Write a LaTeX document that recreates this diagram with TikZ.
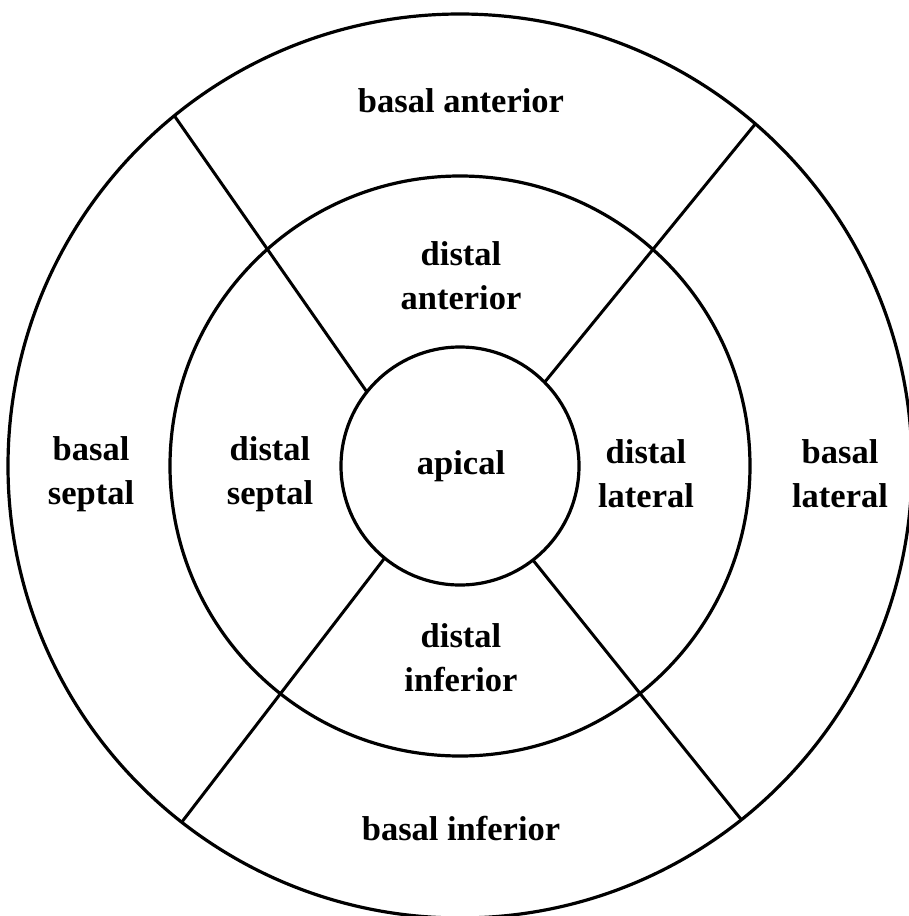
\documentclass[tikz,border=0pt]{standalone}
\usepackage{fontspec}
\setmainfont{Liberation Serif}
\begin{document}
\begin{tikzpicture}[x=1pt,y=1pt,
  ring/.style={line width=3.2pt},
  divider/.style={line width=3pt},
  lbl/.style={font=\fontsize{34.5}{44}\selectfont\bfseries, align=center, inner sep=0pt}]
\useasboundingbox (0,0) rectangle (908,-916);
\fill[white] (0,0) rectangle (908,-916);
\coordinate (c) at (460,-466);
% circles
\draw[ring] (c) circle (452);
\draw[ring] (c) circle (290);
\draw[ring] (c) circle (119);
% divider end points
\coordinate (ul-in)  at ([shift={(c)}]141.5:119);
\coordinate (ul-out) at ([shift={(c)}]129.2:452);
\coordinate (ur-in)  at ([shift={(c)}]44.7:119);
\coordinate (ur-out) at ([shift={(c)}]49.2:452);
\coordinate (ll-in)  at ([shift={(c)}]230.7:119);
\coordinate (ll-out) at ([shift={(c)}]232:452);
\coordinate (lr-in)  at ([shift={(c)}]307.8:119);
\coordinate (lr-out) at ([shift={(c)}]308.5:452);
\draw[divider] (ul-in) -- (ul-out);
\draw[divider] (ur-in) -- (ur-out);
\draw[divider] (ll-in) -- (ll-out);
\draw[divider] (lr-in) -- (lr-out);
% labels
\node[lbl] (banterior) at (461,-101) {basal anterior};
\node[lbl] (danterior) at (461,-276) {distal\\anterior};
\node[lbl] (bseptal) at (91,-474) {basal\\septal};
\node[lbl] (dseptal) at (270,-474) {distal\\septal};
\node[lbl] (apical) at (461,-466) {apical};
\node[lbl] (dlateral) at (646,-474) {distal\\lateral};
\node[lbl] (blateral) at (840,-474) {basal\\lateral};
\node[lbl] (dinferior) at (461,-658) {distal\\inferior};
\node[lbl] (binferior) at (461,-829) {basal inferior};
\end{tikzpicture}
\end{document}
